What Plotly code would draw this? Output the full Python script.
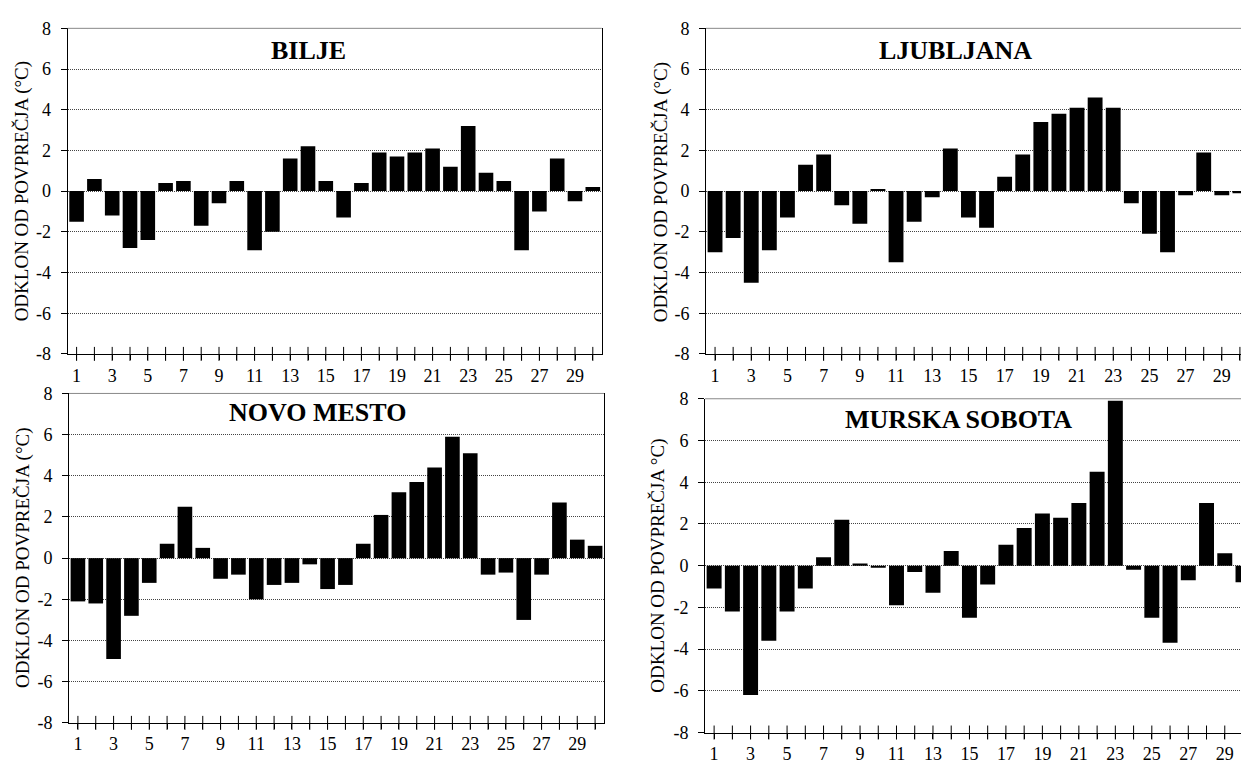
import plotly.graph_objects as go

W, H = 1241, 764
days = list(range(1, 31))
y_ticks = [-8, -6, -4, -2, 0, 2, 4, 6, 8]
x_tick_labels = [str(d) if d % 2 == 1 else "" for d in days]
Y_MIN, Y_MAX = -8, 8

bilje = [-1.5, 0.6, -1.2, -2.8, -2.4, 0.4, 0.5, -1.7, -0.6, 0.5,
         -2.9, -2.0, 1.6, 2.2, 0.5, -1.3, 0.4, 1.9, 1.7, 1.9,
         2.1, 1.2, 3.2, 0.9, 0.5, -2.9, -1.0, 1.6, -0.5, 0.2]
ljubljana = [-3.0, -2.3, -4.5, -2.9, -1.3, 1.3, 1.8, -0.7, -1.6, 0.1,
             -3.5, -1.5, -0.3, 2.1, -1.3, -1.8, 0.7, 1.8, 3.4, 3.8,
             4.1, 4.6, 4.1, -0.6, -2.1, -3.0, -0.2, 1.9, -0.2, -0.1]
novo_mesto = [-2.1, -2.2, -4.9, -2.8, -1.2, 0.7, 2.5, 0.5, -1.0, -0.8,
              -2.0, -1.3, -1.2, -0.3, -1.5, -1.3, 0.7, 2.1, 3.2, 3.7,
              4.4, 5.9, 5.1, -0.8, -0.7, -3.0, -0.8, 2.7, 0.9, 0.6]
murska_sobota = [-1.1, -2.2, -6.2, -3.6, -2.2, -1.1, 0.4, 2.2, 0.1, -0.1,
                 -1.9, -0.3, -1.3, 0.7, -2.5, -0.9, 1.0, 1.8, 2.5, 2.3,
                 3.0, 4.5, 7.9, -0.2, -2.5, -3.7, -0.7, 3.0, 0.6, -0.8]

titles = ["BILJE", "LJUBLJANA", "NOVO MESTO", "MURSKA SOBOTA"]
y_titles = ["ODKLON OD POVPREČJA (°C)", "ODKLON OD POVPREČJA (°C)",
            "ODKLON OD POVPREČJA (°C)", "ODKLON OD POVPREČJA °C)"]
series = [bilje, ljubljana, novo_mesto, murska_sobota]

panels = [
    dict(x0=67.7, x1=601.7, yt=19.0, yb=356.5, xend=30.5, border=True, t=(308, 42), yt_pos=(22, 188)),
    dict(x0=706.0, x1=1241.0, yt=19.0, yb=356.5, xend=30.06, border=False, t=(955, 42), yt_pos=(661, 189)),
    dict(x0=69.0, x1=604.0, yt=397.5, yb=739.0, xend=30.5, border=True, t=(317, 417), yt_pos=(23, 568)),
    dict(x0=705.0, x1=1241.0, yt=403.0, yb=749.0, xend=29.89, border=False, t=(958, 424), yt_pos=(658, 576)),
]

FONT = "Liberation Serif, Times New Roman, Times, serif"
fig = go.Figure()
annotations = []
shapes = []
for i, (p, vals) in enumerate(zip(panels, series)):
    n = "" if i == 0 else str(i + 1)
    xa, ya = "x" + n, "y" + n
    fig.add_trace(go.Bar(x=days, y=vals, xaxis=xa, yaxis=ya, width=0.82,
                         marker=dict(color="black", line=dict(width=0)),
                         showlegend=False, hoverinfo="x+y"))
    fig.add_trace(go.Scatter(x=days, y=[Y_MIN] * len(days), xaxis=xa, yaxis=ya,
                             mode="markers", cliponaxis=False, showlegend=False,
                             hoverinfo="skip",
                             marker=dict(symbol="line-ns", size=10, color="black",
                                         line=dict(width=1, color="black"))))
    xdom = [p["x0"] / W, min(p["x1"] / W, 1.0)]
    ydom = [1 - p["yb"] / H, 1 - p["yt"] / H]
    fig.layout["xaxis" + n] = dict(
        domain=xdom, anchor=ya, range=[0.5, p["xend"]],
        tickmode="array", tickvals=days, ticktext=x_tick_labels,
        ticks="outside", ticklen=5, tickcolor="black", tickwidth=1,
        showline=True, linecolor="black", linewidth=1, mirror=False,
        showgrid=False, zeroline=False,
        tickfont=dict(family=FONT, size=18, color="black"))
    fig.layout["yaxis" + n] = dict(
        domain=ydom, anchor=xa, range=[Y_MIN, Y_MAX],
        tickmode="array", tickvals=y_ticks, ticktext=[str(v) for v in y_ticks],
        ticks="outside", ticklen=6, tickcolor="black", tickwidth=1,
        ticklabelstandoff=6,
        showline=True, linecolor="black", linewidth=1, mirror=p["border"],
        showgrid=True, gridcolor="#444444", gridwidth=1, griddash="1px,1px",
        zeroline=False,
        tickfont=dict(family=FONT, size=18, color="black"))
    shapes.append(dict(type="line", xref=xa + " domain", yref=ya + " domain",
                       x0=0, x1=1, y0=1, y1=1, line=dict(color="#888888", width=1)))
    annotations.append(dict(text="<b>" + titles[i] + "</b>", xref="paper", yref="paper",
                            x=p["t"][0] / W, y=1 - p["t"][1] / H, showarrow=False,
                            xanchor="center", yanchor="middle",
                            font=dict(family=FONT, size=26, color="black")))
    annotations.append(dict(text=y_titles[i], xref="paper", yref="paper",
                            x=p["yt_pos"][0] / W, y=1 - p["yt_pos"][1] / H, showarrow=False,
                            textangle=-90, xanchor="center", yanchor="middle",
                            font=dict(family=FONT, size=19, color="black")))

fig.update_layout(width=W, height=H, margin=dict(l=0, r=0, t=0, b=0),
                  paper_bgcolor="white", plot_bgcolor="white",
                  bargap=0.18, annotations=annotations, shapes=shapes,
                  showlegend=False)
fig.write_html("out.html", config={"displayModeBar": False},
               post_script="document.body.style.margin='0px';document.body.style.overflow='hidden';")
